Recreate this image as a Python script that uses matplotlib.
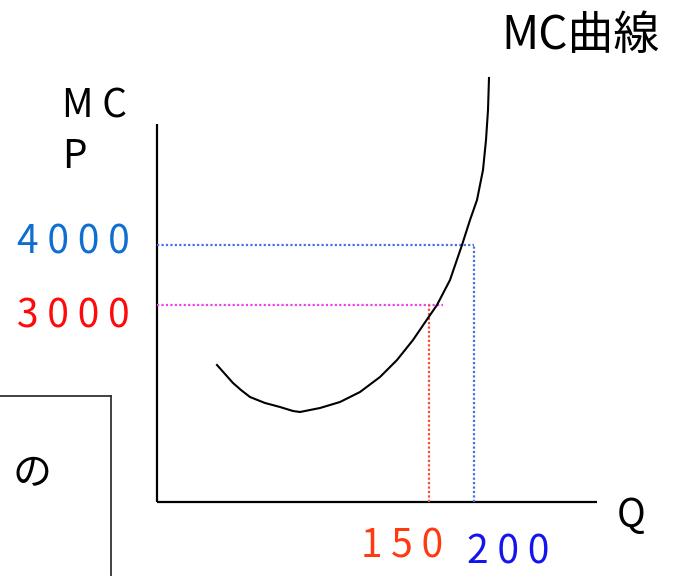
import matplotlib
matplotlib.use("Agg")
import matplotlib.pyplot as plt

plt.rcParams['font.family'] = ['Noto Sans CJK JP', 'DejaVu Sans']

# Schematic MC curve (diagram units, origin at the axes corner)
curve_q = [60, 68, 76, 84, 93, 108, 123, 136, 143, 163, 183, 203, 223, 240, 256,
           271, 280, 293, 305, 313, 320, 326, 329, 331, 332]
curve_mc = [137, 128, 119, 112, 105, 99, 95, 91, 90, 94, 100, 110, 125, 142, 162,
            184, 197, 222, 257, 282, 302, 332, 362, 392, 424]

# Marked levels
price_labels = ["3 0 0 0", "4 0 0 0"]
price_pos = [197, 257]
qty_labels = ["1 5 0", "2 0 0"]
qty_pos = [272, 317]

fig = plt.figure(figsize=(6.75, 5.76), dpi=100)
ax = fig.add_axes([0, 0, 1, 1])
ax.set_xlim(-157, 518)
ax.set_ylim(-74, 502)
ax.axis('off')

# axes
ax.plot([0, 440], [0, 0], color='black', lw=1.6, solid_capstyle='butt')
ax.plot([0, 0], [0, 378], color='black', lw=1.6, solid_capstyle='butt')

# dotted guide lines
dot = (0, (1, 1))
ax.plot([0, qty_pos[1]], [price_pos[1], price_pos[1]], color='#4A6FE8', lw=1.6, ls=dot)
ax.plot([qty_pos[1], qty_pos[1]], [0, price_pos[1]], color='#4A6FE8', lw=1.6, ls=dot)
ax.plot([0, 286], [price_pos[0], price_pos[0]], color='#F040F0', lw=1.6, ls=dot)
ax.plot([qty_pos[0], qty_pos[0]], [0, price_pos[0]], color='#F05030', lw=1.6, ls=dot)

# MC curve
ax.plot(curve_q, curve_mc, color='black', lw=1.5, solid_joinstyle='round')

fs = 28
ax.text(-140, 249, price_labels[1], color='#0F6FD0', fontsize=fs, ha='left', va='baseline')
ax.text(-140, 174, price_labels[0], color='#FF0A0A', fontsize=fs, ha='left', va='baseline')
ax.text(245, -55, qty_labels[0], color='#FF3A10', fontsize=fs, ha='center', va='baseline')
ax.text(351, -62, qty_labels[1], color='#1414EE', fontsize=fs, ha='center', va='baseline')
ax.text(474, -25, "Q", color='black', fontsize=fs, ha='center', va='baseline')
ax.text(-95, 385, "M C", color='black', fontsize=fs, ha='left', va='baseline')
ax.text(-95, 334, "P", color='black', fontsize=fs, ha='left', va='baseline')
ax.text(503, 453, "MC曲線", color='black', fontsize=33, ha='right', va='baseline')

# partial box on the lower left
ax.plot([-160, -46], [106, 106], color='#333333', lw=1.3)
ax.plot([-46, -46], [106, -80], color='#333333', lw=1.3)
ax.text(-125, 17, "の", color='black', fontsize=fs, ha='center', va='baseline')

fig.savefig("out.png", dpi=100)
